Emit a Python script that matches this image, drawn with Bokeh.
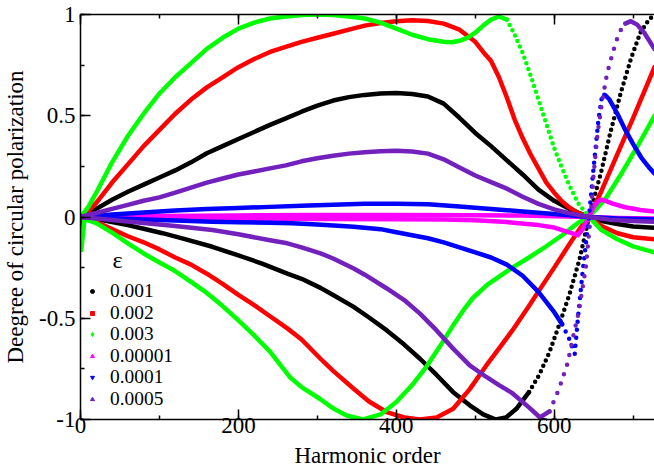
import math
from bokeh.plotting import figure
from bokeh.models import (Range1d, LinearAxis, SingleIntervalTicker, Legend, LegendItem,
                          Label, CustomJSTickFormatter, CustomLabelingPolicy)
from bokeh.embed import file_html
from bokeh.resources import INLINE

# ---------------- data ----------------
eps_labels = ["0.001", "0.002", "0.003", "0.00001", "0.0001", "0.0005"]

h_black_a = [0, 20, 40, 60, 80, 100, 120, 140, 160, 180, 200, 220, 240, 260, 280, 300, 320, 340, 360, 380,
             400, 420, 440, 460, 480, 500, 520, 540, 560, 580, 600, 620, 644, 660, 680, 700, 727]
v_black_a = [0, 0.04, 0.085, 0.125, 0.16, 0.195, 0.23, 0.27, 0.315, 0.35, 0.385, 0.42, 0.455, 0.487, 0.52, 0.55,
             0.575, 0.592, 0.603, 0.61, 0.612, 0.607, 0.595, 0.56, 0.49, 0.415, 0.35, 0.28, 0.21, 0.135, 0.08,
             0.038, 0, -0.02, -0.035, -0.047, -0.053]
h_black_b = [1, 5, 20, 40, 60, 80, 104, 130, 167, 200, 230, 262, 280, 304, 320, 346, 365, 388, 410, 430, 451,
             472, 493, 510, 526, 539, 552, 568, 581, 594, 606, 619, 632, 644, 659, 671, 684, 697, 709, 720, 727]
v_black_b = [-0.055, -0.005, -0.01, -0.025, -0.04, -0.058, -0.08, -0.107, -0.147, -0.19, -0.23, -0.28, -0.305,
             -0.35, -0.385, -0.444, -0.495, -0.56, -0.63, -0.70, -0.78, -0.865, -0.93, -0.975, -1.0, -0.99,
             -0.947, -0.865, -0.78, -0.667, -0.535, -0.386, -0.21, 0, 0.216, 0.415, 0.61, 0.78, 0.91, 0.975, 1.0]

h_red_a = [0, 10, 20, 40, 60, 80, 100, 120, 140, 160, 180, 200, 220, 240, 260, 280, 300, 320, 340, 360, 380, 400,
           420, 440, 460, 480, 500, 510, 520, 530, 540, 550, 560, 570, 580, 590, 600, 610, 620, 630, 644, 660, 680,
           700, 727]
v_red_a = [0, 0.03, 0.07, 0.17, 0.26, 0.35, 0.43, 0.51, 0.58, 0.64, 0.69, 0.74, 0.78, 0.815, 0.84, 0.865, 0.885,
           0.905, 0.925, 0.945, 0.958, 0.967, 0.972, 0.968, 0.955, 0.925, 0.865, 0.815, 0.77, 0.69, 0.59, 0.48,
           0.39, 0.31, 0.24, 0.17, 0.12, 0.076, 0.045, 0.02, 0, -0.045, -0.08, -0.10, -0.11]
h_red_b = [1, 5, 20, 40, 60, 80, 100, 120, 140, 160, 180, 200, 220, 240, 262, 280, 304, 320, 346, 365, 388, 410,
           430, 451, 472, 493, 514, 533, 547, 568, 583, 600, 620, 632, 644, 660, 680, 700, 727]
v_red_b = [-0.11, -0.008, -0.025, -0.06, -0.095, -0.125, -0.16, -0.2, -0.235, -0.28, -0.33, -0.385, -0.435, -0.49,
           -0.55, -0.605, -0.70, -0.76, -0.848, -0.91, -0.964, -0.99, -1.0, -0.99, -0.947, -0.85, -0.733, -0.634,
           -0.56, -0.44, -0.35, -0.25, -0.13, -0.06, 0, 0.13, 0.31, 0.49, 0.74]

h_green_a = [0, 10, 20, 40, 60, 80, 100, 120, 140, 160, 180, 200, 220, 240, 260, 280, 300, 320, 340, 360, 380, 400,
             420, 440, 460, 470, 480, 490, 500, 510, 520, 530, 540, 550, 560, 570, 580, 590, 600, 610, 620, 630, 644,
             660, 680, 700, 727]
v_green_a = [0, 0.05, 0.12, 0.27, 0.40, 0.51, 0.61, 0.69, 0.76, 0.83, 0.885, 0.93, 0.96, 0.98, 0.99, 0.998, 1.0,
             0.997, 0.99, 0.98, 0.96, 0.93, 0.90, 0.878, 0.865, 0.863, 0.87, 0.885, 0.91, 0.945, 0.975, 0.99, 0.975,
             0.90, 0.81, 0.70, 0.58, 0.46, 0.34, 0.24, 0.15, 0.07, 0, -0.065, -0.11, -0.145, -0.175]
h_green_b = [1, 5, 20, 41, 60, 80, 100, 117, 140, 160, 180, 200, 220, 240, 265, 280, 304, 320, 337, 358, 380, 400,
             420, 438, 455, 472, 485, 497, 515, 533, 547, 568, 589, 610, 630, 644, 665, 686, 707, 727]
v_green_b = [-0.163, -0.01, -0.03, -0.08, -0.13, -0.18, -0.225, -0.26, -0.32, -0.375, -0.44, -0.51, -0.585, -0.665,
             -0.79, -0.84, -0.90, -0.945, -0.98, -1.0, -0.975, -0.914, -0.83, -0.74, -0.64, -0.535, -0.46, -0.40,
             -0.335, -0.287, -0.25, -0.20, -0.147, -0.09, -0.03, 0, 0.09, 0.22, 0.36, 0.50]

h_magenta_a = [0, 100, 200, 300, 400, 500, 560, 600, 644, 680, 727]
v_magenta_a = [0, 0.005, 0.008, 0.01, 0.01, 0.009, 0.007, 0.004, 0, -0.005, -0.008]
h_magenta_b = [0, 100, 200, 300, 400, 460, 500, 540, 580, 600, 617, 630, 636, 640, 644, 650, 656, 660, 665, 675,
               690, 709, 727]
v_magenta_b = [0, -0.005, -0.008, -0.01, -0.011, -0.012, -0.016, -0.025, -0.04, -0.052, -0.073, -0.09, -0.06,
               -0.03, 0, 0.05, 0.08, 0.085, 0.08, 0.065, 0.048, 0.035, 0.027]

h_blue_a = [0, 40, 80, 120, 160, 200, 240, 280, 320, 360, 400, 440, 480, 520, 560, 600, 620, 644, 680, 727]
v_blue_a = [0, 0.012, 0.022, 0.032, 0.04, 0.045, 0.05, 0.055, 0.06, 0.065, 0.066, 0.063, 0.052, 0.04, 0.027,
            0.015, 0.008, 0, -0.008, -0.012]
h_blue_b = [0, 40, 80, 120, 167, 200, 240, 268, 300, 346, 380, 400, 420, 440, 460, 480, 500, 520, 540, 560, 580,
            600, 610, 620, 626, 630, 636, 644, 650, 656, 661, 665, 670, 680, 690, 700, 710, 720, 727]
v_blue_b = [0, -0.006, -0.012, -0.017, -0.023, -0.026, -0.029, -0.031, -0.037, -0.048, -0.06, -0.075, -0.09,
            -0.105, -0.125, -0.15, -0.175, -0.20, -0.235, -0.29, -0.37, -0.47, -0.53, -0.61, -0.675, -0.50, -0.27,
            0, 0.25, 0.48, 0.61, 0.60, 0.58, 0.51, 0.43, 0.36, 0.295, 0.245, 0.215]

h_violet_a = [0, 20, 40, 60, 80, 100, 120, 140, 160, 180, 200, 220, 240, 260, 280, 300, 320, 340, 360, 380, 400,
              420, 440, 460, 480, 500, 520, 540, 560, 580, 600, 620, 644, 670, 700, 727]
v_violet_a = [0, 0.02, 0.04, 0.06, 0.08, 0.097, 0.12, 0.145, 0.17, 0.19, 0.21, 0.225, 0.24, 0.255, 0.275, 0.29,
              0.302, 0.313, 0.32, 0.325, 0.327, 0.323, 0.313, 0.285, 0.245, 0.205, 0.172, 0.14, 0.10, 0.065, 0.038,
              0.018, 0, -0.013, -0.02, -0.023]
h_violet_b = [0, 40, 80, 120, 167, 200, 240, 262, 280, 304, 320, 346, 360, 388, 410, 430, 451, 472, 493, 514, 530,
              547, 568, 582, 594, 606, 617, 624, 631, 640, 646, 650, 655, 661, 667, 674, 682, 690, 697, 705, 714, 727]
v_violet_b = [0, -0.015, -0.03, -0.045, -0.064, -0.085, -0.115, -0.13, -0.15, -0.18, -0.205, -0.254, -0.285,
              -0.353, -0.41, -0.477, -0.56, -0.65, -0.733, -0.79, -0.83, -0.87, -0.94, -0.99, -0.96, -0.85, -0.72,
              -0.59, -0.47, -0.25, 0, 0.216, 0.415, 0.58, 0.71, 0.81, 0.91, 0.955, 0.967, 0.95, 0.91, 0.83]

x_ticks_interval = 200
y_ticks_interval = 0.5

# ---------------- figure ----------------
FONT = "Liberation Serif"
p = figure(width=654, height=470, output_backend="svg", toolbar_location=None,
           x_range=Range1d(0, 727), y_range=Range1d(-1, 1),
           x_axis_type=None, y_axis_type=None,
           min_border_left=78, min_border_right=0, min_border_top=14, min_border_bottom=51)
p.outline_line_color = None
p.background_fill_color = "white"
p.border_fill_color = "white"

fmt = CustomJSTickFormatter(code="return String(Math.round(tick*100)/100);")

def style_axis(ax):
    ax.axis_line_width = 1.5
    ax.axis_line_color = "black"
    ax.major_tick_in = 10
    ax.major_tick_out = 0
    ax.minor_tick_in = 4
    ax.minor_tick_out = 0
    ax.major_tick_line_width = 1.5
    ax.minor_tick_line_width = 1.5
    ax.major_label_text_font = FONT
    ax.major_label_text_font_size = "23px"
    ax.major_label_text_color = "black"
    ax.axis_label_text_font = FONT
    ax.axis_label_text_font_size = "23px"
    ax.axis_label_text_font_style = "normal"
    ax.axis_label_text_color = "black"

xaxis = LinearAxis(ticker=SingleIntervalTicker(interval=x_ticks_interval, num_minor_ticks=2),
                   formatter=fmt, axis_label="Harmonic order")
style_axis(xaxis)
xaxis.major_label_standoff = -2
xaxis.axis_label_standoff = 7
p.add_layout(xaxis, "below")

no_labels = CustomLabelingPolicy(code="""
if (typeof indices.unset === "function") {
  for (const i of [...indices]) indices.unset(i)
  return indices
}
return new Set()
""")
topaxis = LinearAxis(ticker=SingleIntervalTicker(interval=x_ticks_interval, num_minor_ticks=2),
                     major_label_policy=no_labels)
style_axis(topaxis)
topaxis.major_label_text_font_size = "1px"
topaxis.major_label_standoff = 0
p.add_layout(topaxis, "above")

yaxis = LinearAxis(ticker=SingleIntervalTicker(interval=y_ticks_interval, num_minor_ticks=2),
                   formatter=fmt, axis_label="Deegree of circular polarization")
style_axis(yaxis)
yaxis.major_label_standoff = 5
yaxis.axis_label_standoff = 8
p.add_layout(yaxis, "left")

colors = ["#000000", "#ff0000", "#00ff00", "#ff00ff", "#0000ff", "#7221bc"]
names = ["black", "red", "green", "magenta", "blue", "violet"]
series = [
    (h_black_a, v_black_a, h_black_b, v_black_b),
    (h_red_a, v_red_a, h_red_b, v_red_b),
    (h_green_a, v_green_a, h_green_b, v_green_b),
    (h_magenta_a, v_magenta_a, h_magenta_b, v_magenta_b),
    (h_blue_a, v_blue_a, h_blue_b, v_blue_b),
    (h_violet_a, v_violet_a, h_violet_b, v_violet_b),
]
# harmonic-order spans where the reference points are sparse (steep parts) -> dotted look
sparse_spans = {("black", "b"): (568, 727, "0 6"), ("green", "a"): (540, 644, "0 6"),
                ("blue", "b"): (610, 665, "0 8"), ("violet", "b"): (594, 690, "0 10")}

# legend proxies: a single real data point (the common origin), drawn below the curves
markers = [("circle", 0.0, 5), ("square", 0.0, 5), ("diamond", 0.0, 8),
           ("triangle", math.pi / 2, 6), ("inverted_triangle", 0.0, 6), ("triangle", -math.pi / 2, 6)]
items = []
for lab, c, (mk, ang, sz), (ha, va, hb, vb) in zip(eps_labels, colors, markers, series):
    r = p.scatter(x=ha[:1], y=va[:1], marker=mk, angle=ang, size=sz, fill_color=c, line_color=c)
    items.append(LegendItem(label=lab, renderers=[r]))

LW = 4.5


def draw(h, v, c, span):
    if span is None:
        p.line(h, v, line_color=c, line_width=LW, line_join="round", line_cap="round")
        return
    lo, hi, dash = span
    i0 = h.index(lo)
    i1 = h.index(hi)
    p.line(h[:i0 + 1], v[:i0 + 1], line_color=c, line_width=LW, line_join="round", line_cap="round")
    p.line(h[i0:i1 + 1], v[i0:i1 + 1], line_color=c, line_width=4.5, line_join="round", line_cap="round",
           line_dash=dash)
    if i1 < len(h) - 1:
        p.line(h[i1:], v[i1:], line_color=c, line_width=LW, line_join="round", line_cap="round")


for (ha, va, hb, vb), c, nm in zip(series, colors, names):
    draw(ha, va, c, sparse_spans.get((nm, "a")))
    draw(hb, vb, c, sparse_spans.get((nm, "b")))

# one small legend per row so the row pitch matches the reference (21.6 px)
ROW_PITCH = 21.6
LAST_ROW_OFFSET = 9.1
n_rows = len(items)
for i, it in enumerate(items):
    lg = Legend(items=[it], location=(7, LAST_ROW_OFFSET + (n_rows - 1 - i) * ROW_PITCH),
                background_fill_alpha=0, border_line_alpha=0,
                padding=0, margin=0, spacing=0, glyph_width=10, glyph_height=20, label_height=20,
                label_standoff=13, label_text_font=FONT, label_text_font_size="19.4px",
                label_text_color="black", label_text_baseline="middle")
    p.add_layout(lg)

p.add_layout(Label(x=47, y=-0.213, text="ε", text_font=FONT, text_font_size="24px",
                   text_align="center", text_baseline="middle", text_color="black"))

open("out.html", "w").write(file_html(p, INLINE))
